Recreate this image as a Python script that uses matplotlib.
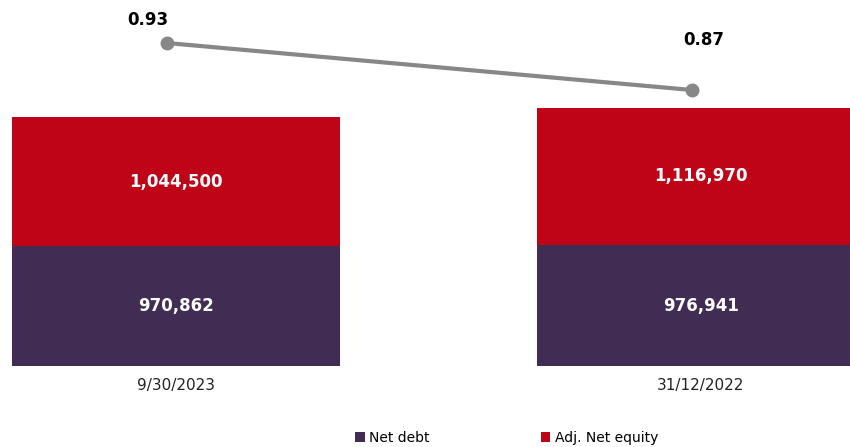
import matplotlib
matplotlib.use("Agg")
import matplotlib.pyplot as plt

periods = ["9/30/2023", "31/12/2022"]
net_debt = [970862, 976941]
adj_net_equity = [1044500, 1116970]
ratio = [0.93, 0.87]

purple = "#412C54"
red = "#C00418"
grey = "#878787"

fig = plt.figure(figsize=(8.5, 4.47), dpi=100)
ax = fig.add_axes([0, 81 / 447, 1, 366 / 447])

x = list(range(len(periods)))
b1 = ax.bar(x, net_debt, width=0.625, color=purple, label="Net debt")
b2 = ax.bar(x, adj_net_equity, width=0.625, bottom=net_debt, color=red,
            label="Adj. Net equity")

for bars, vals in ((b1, net_debt), (b2, adj_net_equity)):
    for rect, v in zip(bars, vals):
        ax.text(rect.get_x() + rect.get_width() / 2,
                rect.get_y() + rect.get_height() / 2,
                f"{v:,}", ha="center", va="center", color="white",
                fontsize=12, fontweight="bold")

ax.set_xlim(-0.335, 1.284)
ax.set_ylim(0, 2965000)
ax.set_xticks(x)
ax.set_xticklabels(periods, fontsize=11, color="#222222")
ax.tick_params(axis="x", length=0, pad=8.5)
ax.set_yticks([])
for s in ax.spines.values():
    s.set_visible(False)

# the ratio line sits a little left of the bar centres
lx = [xi - 0.017 for xi in x]
ax2 = ax.twinx()
ax2.plot(lx, ratio, color=grey, lw=3, marker="o", ms=9, solid_capstyle="round")
ax2.set_ylim(0.5177, 0.9849)
ax2.set_yticks([])
for s in ax2.spines.values():
    s.set_visible(False)

offsets = [(-14, 16.5), (8.5, 36)]
for xi, r, off in zip(lx, ratio, offsets):
    ax2.annotate(f"{r:.2f}", (xi, r), xytext=off, textcoords="offset points",
                 ha="center", va="center", fontsize=12, fontweight="bold",
                 color="black")

fig.legend(handles=[b1, b2], loc="center", bbox_to_anchor=(0.596, 0.02),
           ncol=2, frameon=False, fontsize=10, handlelength=0.7,
           handleheight=0.7, handletextpad=0.3, columnspacing=8)

fig.savefig("out.png", dpi=100)
